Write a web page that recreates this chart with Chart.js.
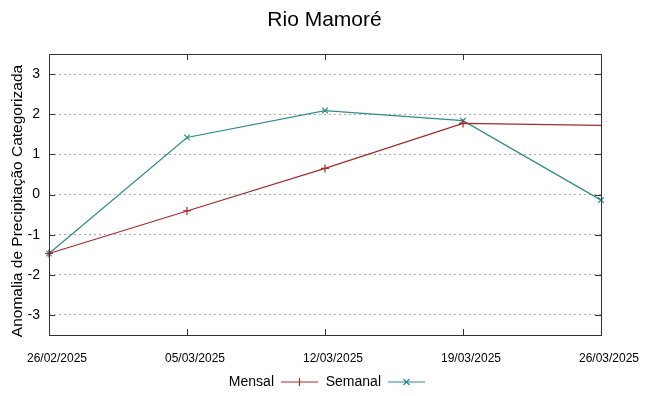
<!DOCTYPE html>
<html>
<head>
<meta charset="utf-8">
<script src="https://cdn.jsdelivr.net/npm/chart.js@4/dist/chart.umd.min.js"></script>
<style>
  html, body { margin: 0; padding: 0; background: #fff; }
  #wrap { width: 649px; height: 396px; }
</style>
</head>
<body>
<div id="wrap"><canvas id="c"></canvas></div>
<script>
var dates = ["26/02/2025", "05/03/2025", "12/03/2025", "19/03/2025", "26/03/2025"];
var mensal = [-1.47, -0.41, 0.65, 1.77, 1.72];
var semanal = [-1.47, 1.42, 2.09, 1.84, -0.14];
var yTicks = [-3, -2, -1, 0, 1, 2, 3];

var red = "#a52a2a";
var teal = "#2e8b8b";
var FONT = "'Liberation Sans', Arial, sans-serif";

// gnuplot style frame, inner tick marks, titles and legend
var framePlugin = {
    id: "frame",
    afterDraw: function (chart) {
        var ctx = chart.ctx;
        var a = chart.chartArea;
        var ys = chart.scales.y;
        var xs = chart.scales.x;
        ctx.save();
        ctx.strokeStyle = "#333";
        ctx.lineWidth = 1;
        ctx.strokeRect(Math.round(a.left) + 0.5, Math.round(a.top) + 0.5,
            Math.round(a.right - a.left), Math.round(a.bottom - a.top));
        ctx.beginPath();
        yTicks.forEach(function (v) {
            var y = Math.round(ys.getPixelForValue(v)) + 0.5;
            ctx.moveTo(a.left, y); ctx.lineTo(a.left + 6, y);
            ctx.moveTo(a.right, y); ctx.lineTo(a.right - 6, y);
        });
        dates.forEach(function (d, i) {
            var x = Math.round(xs.getPixelForValue(i)) + 0.5;
            ctx.moveTo(x, a.bottom); ctx.lineTo(x, a.bottom - 6);
            ctx.moveTo(x, a.top); ctx.lineTo(x, a.top + 6);
        });
        ctx.stroke();

        ctx.fillStyle = "#000";
        // title
        ctx.font = "21px " + FONT;
        ctx.textAlign = "center";
        ctx.textBaseline = "middle";
        ctx.fillText("Rio Mamoré", chart.width / 2, 20);

        // y axis title
        ctx.save();
        ctx.translate(18, 201);
        ctx.rotate(-Math.PI / 2);
        ctx.font = "15.5px " + FONT;
        ctx.fillText("Anomalia de Precipitação Categorizada", 0, 0);
        ctx.restore();

        // legend
        ctx.font = "14px " + FONT;
        ctx.textAlign = "right";
        var ly = 382;
        var items = [
            { label: "Mensal", color: red, x: 274, style: "cross" },
            { label: "Semanal", color: teal, x: 381, style: "x" }
        ];
        items.forEach(function (it) {
            ctx.fillText(it.label, it.x, ly);
            var x0 = it.x + 7, x1 = x0 + 37, xm = (x0 + x1) / 2;
            ctx.strokeStyle = it.color;
            ctx.lineWidth = 1.2;
            ctx.beginPath();
            ctx.moveTo(x0, ly); ctx.lineTo(x1, ly);
            if (it.style === "cross") {
                ctx.moveTo(xm, ly - 4); ctx.lineTo(xm, ly + 4);
            } else {
                ctx.moveTo(xm - 3, ly - 3); ctx.lineTo(xm + 3, ly + 3);
                ctx.moveTo(xm - 3, ly + 3); ctx.lineTo(xm + 3, ly - 3);
            }
            ctx.stroke();
        });
        ctx.restore();
    }
};

new Chart(document.getElementById("c"), {
    type: "line",
    data: {
        labels: dates,
        datasets: [
            {
                label: "Mensal",
                data: mensal,
                borderColor: red,
                backgroundColor: red,
                borderWidth: 1.2,
                pointStyle: "cross",
                pointRadius: [4, 4, 4, 4, 0],
                pointBorderWidth: 1.2,
                tension: 0
            },
            {
                label: "Semanal",
                data: semanal,
                borderColor: teal,
                backgroundColor: teal,
                borderWidth: 1.2,
                pointStyle: "crossRot",
                pointRadius: 4,
                pointBorderWidth: 1.2,
                tension: 0
            }
        ]
    },
    options: {
        responsive: true,
        maintainAspectRatio: false,
        animation: false,
        layout: { padding: { left: 0, right: 48, top: 54, bottom: 0 } },
        plugins: {
            legend: { display: false },
            tooltip: { enabled: false },
            title: { display: false }
        },
        scales: {
            x: {
                type: "category",
                offset: false,
                grid: { display: false },
                border: { display: false },
                ticks: {
                    color: "#000",
                    padding: 8,
                    labelOffset: 8,
                    maxRotation: 0,
                    autoSkip: false,
                    font: { family: FONT, size: 12 }
                },
                afterFit: function (s) { s.height = 61; }
            },
            y: {
                min: -3.5,
                max: 3.5,
                afterBuildTicks: function (s) {
                    s.ticks = yTicks.map(function (v) { return { value: v }; });
                },
                grid: {
                    color: "#aaa",
                    lineWidth: 1,
                    drawTicks: false
                },
                border: { display: false, dash: [2, 3] },
                ticks: {
                    color: "#000",
                    padding: 9,
                    font: { family: FONT, size: 14 }
                },
                afterFit: function (s) { s.width = 49; }
            }
        }
    },
    plugins: [framePlugin]
});
</script>
</body>
</html>
